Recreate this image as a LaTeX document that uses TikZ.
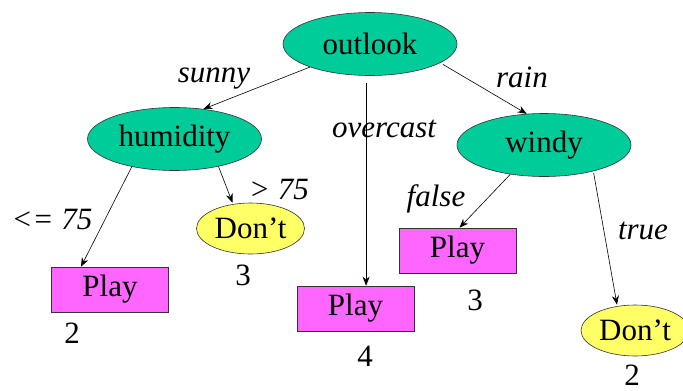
\documentclass[tikz,border=0pt]{standalone}
\usepackage{fontspec}
\setmainfont{Liberation Serif}
\usetikzlibrary{shapes.geometric,arrows.meta}
\definecolor{attrgreen}{HTML}{00CC99}
\definecolor{leafyellow}{HTML}{FFFF66}
\definecolor{leafpink}{HTML}{FF66FF}
\tikzset{
  big/.style={font=\fontsize{31}{36}\selectfont},
  attr/.style={ellipse, draw=black!80, line width=0.6pt, fill=attrgreen,
    minimum width=174pt, minimum height=63pt, inner sep=0pt, big},
  dont/.style={ellipse, draw=black!80, line width=0.6pt, fill=leafyellow,
    minimum width=108pt, minimum height=51pt, inner sep=0pt, big},
  play/.style={rectangle, draw=black!80, line width=0.6pt, fill=leafpink,
    minimum width=117pt, minimum height=45pt, inner sep=0pt, big},
  edgelbl/.style={inner sep=0pt, font=\fontsize{31}{36}\selectfont\itshape},
  count/.style={inner sep=0pt, big},
  arr/.style={-{Stealth[length=9pt,width=7pt]}, line width=0.6pt, black}
}
\begin{document}
\begin{tikzpicture}[x=1pt,y=-1pt]
  \useasboundingbox (0,0) rectangle (683,391);

  % decision nodes
  \node[attr] (outlook)  at (370,44)  {outlook};
  \node[attr] (humidity) at (174.5,139) {humidity};
  \node[attr] (windy)    at (544,145) {windy};

  % leaves
  \node[play] (playL) at (110,289.5) {Play};
  \node[dont] (dontL) at (250.5,228.5) {Don’t};
  \node[play] (playC) at (355.5,308.5) {Play};
  \node[play] (playR) at (457.5,250.5) {Play};
  \node[dont] (dontR) at (635,330.5) {Don’t};

  % instance counts
  \node[count] (nL)  at (72,333)  {2};
  \node[count] (nD)  at (243,275) {3};
  \node[count] (nC)  at (365,356) {4};
  \node[count] (nR)  at (475,300) {3};
  \node[count] (nDR) at (632,375) {2};

  % branch labels
  \node[edgelbl] (lsunny) at (214,79)  {sunny};
  \node[edgelbl] (lover)  at (384,129) {overcast};
  \node[edgelbl] (lrain)  at (522,77)  {rain};
  \node[edgelbl] (lgt)    at (279,189) {> 75};
  \node[edgelbl] (lle)    at (52,219)  {<= 75};
  \node[edgelbl] (lfalse) at (436,199) {false};
  \node[edgelbl] (ltrue)  at (643,231) {true};

  % branches
  \draw[arr] (outlook.201) -- (humidity.46);
  \draw[arr, shorten <=7pt] (outlook.263) -- (outlook.263 |- playC.north);
  \draw[arr, shorten <=3pt] (outlook.345) -- (windy.119);
  \draw[arr] (humidity.213) -- ([xshift=-29pt]playL.north);
  \draw[arr] (humidity.328) -- ([xshift=-18pt]dontL.north);
  \draw[arr] (windy.221) -- ([xshift=2pt]playR.north);
  \draw[arr, shorten <=2pt] (windy.332) -- ([xshift=-18pt]dontR.north);
\end{tikzpicture}
\end{document}
